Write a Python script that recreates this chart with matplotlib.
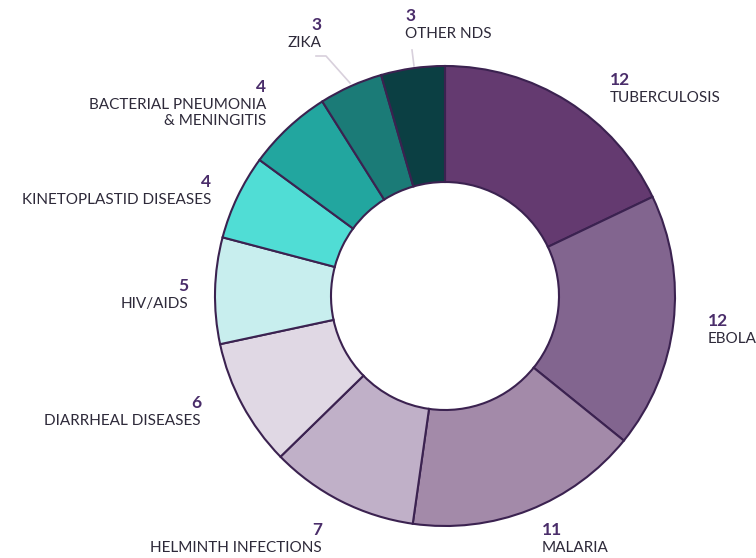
import matplotlib
matplotlib.use('Agg')
import matplotlib.pyplot as plt

# slices, clockwise from 12 o'clock
diseases = ['TUBERCULOSIS', 'EBOLA', 'MALARIA', 'HELMINTH INFECTIONS',
            'DIARRHEAL DISEASES', 'HIV/AIDS', 'KINETOPLASTID DISEASES',
            'BACTERIAL PNEUMONIA\n& MENINGITIS', 'ZIKA', 'OTHER NDS']
counts = [12, 12, 11, 7, 6, 5, 4, 4, 3, 3]
colors = ['#643a70', '#82658f', '#a38aa9', '#c0b0c8', '#e0d8e4',
          '#c8eeee', '#50ddd5', '#22a69f', '#1b7b77', '#0b3f43']

# label anchor (x, y in pixels from top-left), alignment
label_pos = [(610, 80, 'left'), (708, 321, 'left'), (542, 530, 'left'),
             (322, 530, 'right'), (201, 403, 'right'), (188, 286, 'right'),
             (211, 182, 'right'), (266, 87, 'right'), (322, 25, 'right'),
             (405, 16, 'left')]

W, H = 756, 558
fig = plt.figure(figsize=(W / 100, H / 100), dpi=100)
ax = fig.add_axes([0, 0, 1, 1])

ax.pie(counts, colors=colors, startangle=90, counterclock=False,
       radius=230, center=(445, H - 296),
       wedgeprops=dict(width=116, edgecolor='#3b2250', linewidth=1.5))

num_color = '#4a2d6a'
txt_color = '#2e2a3a'
for name, n, (x, y, ha) in zip(diseases, counts, label_pos):
    ax.text(x, H - y, str(n), ha=ha, va='center', fontsize=12.5,
            fontweight='bold', color=num_color, family='Lato')
    ax.text(x, H - y - 11, name, ha=ha, va='top', fontsize=11,
            color=txt_color, family='Lato', linespacing=1.2)

# leader lines for the two small slices
ax.plot([316, 326, 350], [H - 56, H - 56, H - 83], color='#d8d0dc', lw=1.2)
ax.plot([412, 414], [H - 50, H - 66], color='#d8d0dc', lw=1.2)

ax.set_xlim(0, W)
ax.set_ylim(0, H)
ax.set_aspect('equal')
ax.axis('off')

fig.savefig('out.png', dpi=100, facecolor='white')
